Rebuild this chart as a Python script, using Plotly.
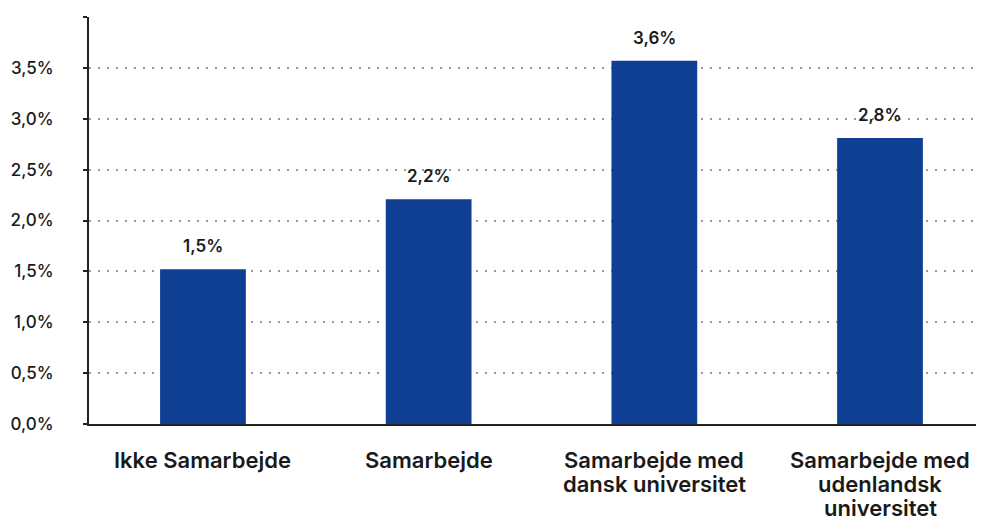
import plotly.graph_objects as go

categories = ["Ikke Samarbejde", "Samarbejde", "Samarbejde med<br>dansk universitet", "Samarbejde med<br>udenlandsk<br>universitet"]
values = [1.52, 2.21, 3.57, 2.81]
tick_vals = [0, 0.5, 1.0, 1.5, 2.0, 2.5, 3.0, 3.5, 4.0]
tick_text = ["0,0%", "0,5%", "1,0%", "1,5%", "2,0%", "2,5%", "3,0%", "3,5%", ""]

FONT = "Inter, Roboto, Liberation Sans, sans-serif"
TXT = "#1a1a1a"

xs = list(range(len(categories)))

fig = go.Figure(go.Bar(
    x=xs,
    y=values,
    marker=dict(color="#0F3F92", line=dict(width=0)),
    width=0.38,
    hoverinfo="skip",
))

annotations = []
# value labels above bars
for x, v in zip(xs, values):
    annotations.append(dict(
        x=x, y=v, xref="x", yref="y",
        text=f"{v:.1f}%".replace(".", ","),
        showarrow=False, yanchor="bottom", xanchor="center", yshift=11,
        font=dict(family=FONT, size=17, color=TXT, weight=560),
    ))
# category labels, one annotation per line for tight line spacing
for x, cat in zip(xs, categories):
    for i, line in enumerate(cat.split("<br>")):
        annotations.append(dict(
            x=x, y=0, xref="x", yref="paper",
            text=line, showarrow=False,
            xanchor="center", yanchor="middle",
            yshift=-36 - i * 24,
            font=dict(family=FONT, size=22, color=TXT, weight=560),
        ))

fig.update_layout(
    width=984, height=520,
    margin=dict(l=81, r=12, t=9, b=104),
    paper_bgcolor="white", plot_bgcolor="white",
    separators=",.",
    showlegend=False,
    font=dict(family=FONT, color=TXT),
    annotations=annotations,
)
fig.update_xaxes(
    range=[-0.505, 3.443],
    showgrid=False, showticklabels=False,
    showline=True, linecolor="#222", linewidth=2,
    ticks="", zeroline=False, automargin=False,
)
fig.update_yaxes(
    range=[0, 4.0],
    tickvals=tick_vals, ticktext=tick_text,
    showgrid=True, gridcolor="#9a9a9a", gridwidth=2, griddash="2px,7px",
    showline=True, linecolor="#222", linewidth=2,
    ticks="outside", ticklen=4, tickcolor="#222", tickwidth=2,
    ticklabelstandoff=26,
    tickfont=dict(family=FONT, size=17, color=TXT, weight=500),
    zeroline=False, automargin=False,
)

fig.write_html("out.html")
